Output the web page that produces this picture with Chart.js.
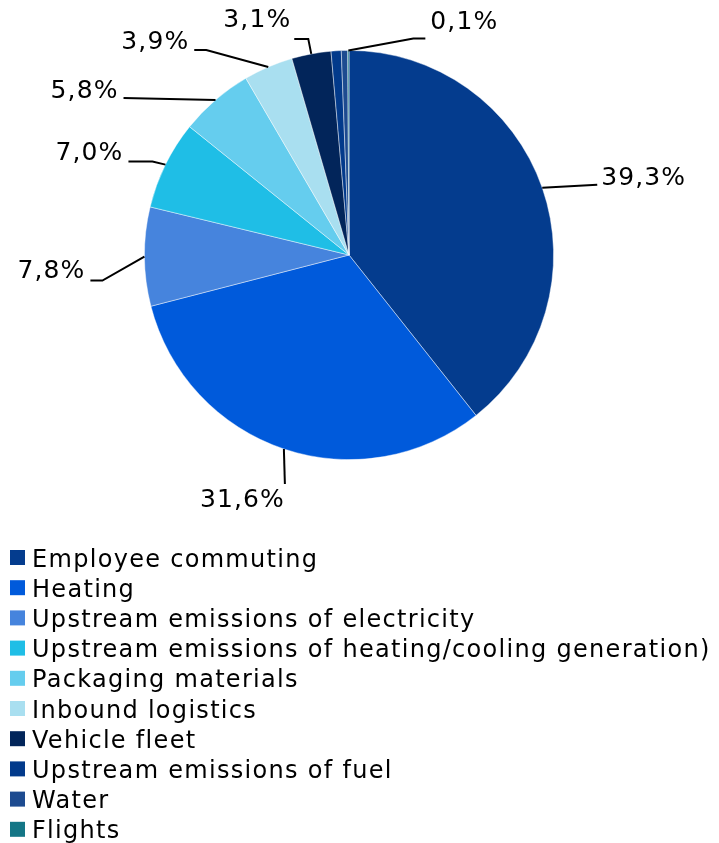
<!DOCTYPE html>
<html>
<head>
<meta charset="utf-8">
<script src="https://cdn.jsdelivr.net/npm/chart.js@4.4.1/dist/chart.umd.min.js"></script>
<style>
  html, body { margin: 0; padding: 0; background: #fff; }
  #wrap { width: 719px; height: 843px; }
</style>
</head>
<body>
<div id="wrap"><canvas id="chart" width="719" height="843"></canvas></div>
<script>
// ===== DATA =====
const categories = [
    'Employee commuting',
    'Heating',
    'Upstream emissions of electricity',
    'Upstream emissions of heating/cooling generation)',
    'Packaging materials',
    'Inbound logistics',
    'Vehicle fleet',
    'Upstream emissions of fuel',
    'Water',
    'Flights'
];
const shares = [39.3, 31.6, 7.8, 7.0, 5.8, 3.9, 3.1, 0.8, 0.5, 0.1];
const showLabel = [true, true, true, true, true, true, true, false, false, true];
const colors = [
    '#043c8e', '#005adb', '#4684dd', '#1fbee6', '#65cdee',
    '#a9dff0', '#02255a', '#023a8b', '#1d4b90', '#147686'
];

// ===== LEADER LINES (offsets from the slice edge) =====
// pts: bends of the line, txt: text offset from the last point, align: text side
const leaders = [
    { pts: [[55, -3]], txt: [4, -6], align: 'left' },
    { pts: [[1, 35]], txt: [0, 17], align: 'right' },
    { pts: [[-42, 24], [-54, 24]], txt: [-5, -9], align: 'right' },
    { pts: [[-13, -3], [-37, -3]], txt: [-5, -8], align: 'right' },
    { pts: [[-92, -2]], txt: [-5, -6], align: 'right' },
    { pts: [[-62, -17], [-74, -17]], txt: [-5, -8], align: 'right' },
    { pts: [[-3, -15], [-17, -15]], txt: [-3, -18], align: 'right' },
    null,
    null,
    { pts: [[65, -12], [77, -12]], txt: [5, -16], align: 'left' }
];

const FONT = '"DejaVu Sans", Verdana, sans-serif';
const fmt = v => v.toFixed(1).replace('.', ',') + '%';

// ===== LABELS AROUND THE PIE =====
const pieLabels = {
    id: 'pieLabels',
    afterDatasetsDraw(chart) {
        const ctx = chart.ctx;
        const arcs = chart.getDatasetMeta(0).data;
        ctx.save();
        ctx.strokeStyle = '#000';
        ctx.lineWidth = 2;
        ctx.fillStyle = '#000';
        ctx.font = '25px ' + FONT;
        ctx.letterSpacing = '1.1px';
        ctx.textBaseline = 'middle';
        arcs.forEach((arc, i) => {
            if (!showLabel[i] || !leaders[i]) return;
            const p = arc.getProps(['x', 'y', 'startAngle', 'endAngle', 'outerRadius'], true);
            const mid = (p.startAngle + p.endAngle) / 2;
            const ax = p.x + Math.cos(mid) * p.outerRadius;
            const ay = p.y + Math.sin(mid) * p.outerRadius;
            const L = leaders[i];
            ctx.beginPath();
            ctx.moveTo(ax, ay);
            let ex = ax, ey = ay;
            L.pts.forEach(([dx, dy]) => {
                ex = ax + dx; ey = ay + dy;
                ctx.lineTo(ex, ey);
            });
            ctx.stroke();
            ctx.textAlign = L.align;
            ctx.fillText(fmt(shares[i]), ex + L.txt[0], ey + L.txt[1]);
        });
        ctx.restore();
    }
};

// ===== LEGEND (one entry per row) =====
const listLegend = {
    id: 'listLegend',
    afterDraw(chart) {
        const ctx = chart.ctx;
        const top = 550, rowH = 30.2, box = 15;
        ctx.save();
        ctx.font = '24px ' + FONT;
        ctx.letterSpacing = '1.3px';
        ctx.textAlign = 'left';
        ctx.textBaseline = 'alphabetic';
        categories.forEach((name, i) => {
            const y = top + i * rowH;
            ctx.fillStyle = colors[i];
            ctx.fillRect(10, y, box, box);
            ctx.fillStyle = '#000';
            ctx.fillText(name, 32, y + 16.5);
        });
        ctx.restore();
    }
};

const ctx = document.getElementById('chart').getContext('2d');
const chart = new Chart(ctx, {
    type: 'pie',
    data: {
        labels: categories,
        datasets: [{
            data: shares,
            backgroundColor: colors,
            borderColor: 'rgba(255,255,255,0.55)',
            borderWidth: 0.8
        }]
    },
    options: {
        responsive: false,
        animation: false,
        layout: { padding: { left: 144, right: 165, top: 50, bottom: 383 } },
        plugins: {
            legend: { display: false },
            tooltip: { enabled: false }
        }
    },
    plugins: [pieLabels, listLegend]
});
</script>
</body>
</html>
